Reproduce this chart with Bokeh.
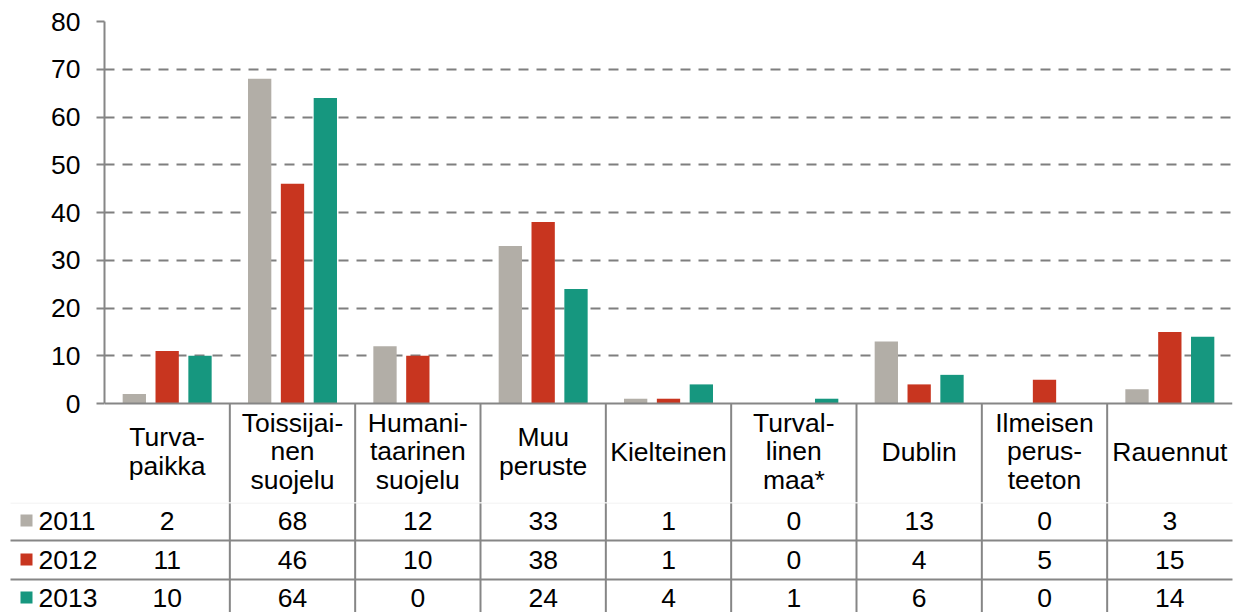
from bokeh.plotting import figure
from bokeh.models import Range1d, FixedTicker
from bokeh.embed import file_html
from bokeh.resources import INLINE
from bokeh.core.properties import value

# ---------------- data ----------------
categories = [
    "Turva-\npaikka",
    "Toissijai-\nnen\nsuojelu",
    "Humani-\ntaarinen\nsuojelu",
    "Muu\nperuste",
    "Kielteinen",
    "Turval-\nlinen\nmaa*",
    "Dublin",
    "Ilmeisen\nperus-\nteeton",
    "Rauennut",
]
years = ["2011", "2012", "2013"]
v2011 = [2, 68, 12, 33, 1, 0, 13, 0, 3]
v2012 = [11, 46, 10, 38, 1, 0, 4, 5, 15]
v2013 = [10, 64, 0, 24, 4, 1, 6, 0, 14]
y_ticks = [0, 10, 20, 30, 40, 50, 60, 70, 80]

# ---------------- style ----------------
series = [v2011, v2012, v2013]
colors = ["#b2aea7", "#c8351f", "#16977f"]
FONT = value("Liberation Sans")
FS = "26.5px"
LINE = "#868686"

n = len(categories)
W = 1236
LEFT = 104                      # frame left
RIGHT = W - 1232                # frame right at 1232
cat_px = (W - LEFT - RIGHT) / n
px_per_unit = 382 / 80
A_TOP = 21
Y0_PX = 403                     # page y of value 0
A_H = 502                       # chart figure (bars + category header)
y_start = -(A_H - Y0_PX) / px_per_unit

def ya_px(page_y):
    return -(page_y - Y0_PX) / px_per_unit

# ---------------- chart + category header ----------------
pA = figure(width=W, height=A_H, x_range=Range1d(0, n), y_range=Range1d(y_start, y_ticks[-1]),
            output_backend="svg", toolbar_location=None, x_axis_location=None,
            min_border_left=LEFT, min_border_right=RIGHT, min_border_top=A_TOP, min_border_bottom=0,
            outline_line_color=None, background_fill_color="white", border_fill_color="white")

ya = pA.yaxis[0]
ya.ticker = FixedTicker(ticks=y_ticks)
ya.bounds = (y_ticks[0], y_ticks[-1])
ya.major_tick_out = 8
ya.major_tick_in = 0
ya.minor_tick_out = 0
ya.minor_tick_in = 0
ya.axis_line_color = LINE
ya.axis_line_width = 2
ya.major_tick_line_color = LINE
ya.major_tick_line_width = 2
ya.major_label_text_font = "Liberation Sans"
ya.major_label_text_font_size = FS
ya.major_label_text_color = "black"
ya.major_label_standoff = 16

pA.xgrid.visible = False
pA.ygrid.ticker = FixedTicker(ticks=y_ticks[1:])
pA.ygrid.grid_line_color = "#7f7f7f"
pA.ygrid.grid_line_width = 2
pA.ygrid.grid_line_dash = "10 8"

offsets = [-0.262, 0.0, 0.262]
for vals, col, off in zip(series, colors, offsets):
    pA.vbar(x=[i + 0.5 + off for i in range(n)], top=vals, bottom=0, width=0.186,
            fill_color=col, line_color=None)

pA.segment(x0=[0], y0=[0], x1=[n], y1=[0], line_color=LINE, line_width=2)
pA.segment(x0=list(range(1, n)), y0=[0] * (n - 1), x1=list(range(1, n)), y1=[y_start] * (n - 1),
           line_color=LINE, line_width=2)

pA.text(x=[i + 0.5 for i in range(n)], y=[ya_px(451)] * n, text=categories,
        text_font=FONT, text_font_size=FS, text_align="center", text_baseline="middle",
        text_line_height=0.96, text_color="black")

# ---------------- data table rows ----------------
B_H = 612 - A_H
def ry(page_y):
    return -(page_y - A_H)

x_left = -LEFT / cat_px
x_right = n + RIGHT / cat_px
pB = figure(width=W, height=B_H, x_range=Range1d(x_left, x_right), y_range=Range1d(-B_H, 0),
            output_backend="svg", toolbar_location=None, x_axis_location=None, y_axis_location=None,
            min_border=0, outline_line_color=None, background_fill_color="white",
            border_fill_color="white")
pB.grid.visible = False

pB.segment(x0=list(range(1, n)), y0=[0] * (n - 1), x1=list(range(1, n)), y1=[-B_H] * (n - 1),
           line_color=LINE, line_width=2)
line_start = -(LEFT - 10) / cat_px
pB.segment(x0=[line_start], y0=[ry(502.5)], x1=[n], y1=[ry(502.5)], line_color="#ededed", line_width=1)
pB.segment(x0=[line_start] * 2, y0=[ry(540), ry(579)], x1=[n] * 2, y1=[ry(540), ry(579)],
           line_color=LINE, line_width=2)

row_y = [ry(520), ry(559), ry(597)]
key_x = -(LEFT - 26) / cat_px
lab_x = -(LEFT - 38) / cat_px
for yr, vals, col, yy in zip(years, series, colors, row_y):
    pB.text(x=[i + 0.5 for i in range(n)], y=[yy] * n, text=[str(v) for v in vals],
            text_font=FONT, text_font_size=FS, text_align="center", text_baseline="middle",
            text_color="black")
    pB.scatter(x=[key_x], y=[yy], marker="square", size=12, fill_color=col, line_color=None)
    pB.text(x=[lab_x], y=[yy], text=[yr], text_font=FONT, text_font_size=FS,
            text_align="left", text_baseline="middle", text_color="black")

open("out.html", "w").write(file_html([pA, pB], INLINE))
